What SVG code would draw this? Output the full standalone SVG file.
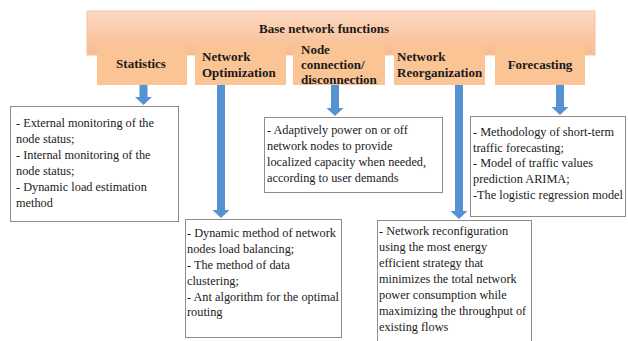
<svg xmlns="http://www.w3.org/2000/svg" width="628" height="341" viewBox="0 0 628 341">
<style>
.hd{font-family:'Liberation Serif','DejaVu Serif',serif;font-weight:bold;font-size:13px;fill:#1a1a1a}
.tx{font-family:'Liberation Serif','DejaVu Serif',serif;font-size:12.3px;fill:#1a1a1a}
.sub{fill:#fbc495}
.box{fill:#ffffff;stroke:#8c8c8c;stroke-width:1}
.arr{fill:#5592d2}
</style>
<defs>
<linearGradient id="bar" x1="0" y1="0" x2="0" y2="1">
<stop offset="0" stop-color="#fcd9c0"/>
<stop offset="1" stop-color="#f8bb90"/>
</linearGradient>
</defs>
<rect width="628" height="341" fill="#ffffff"/>
<g id="base">
<rect x="87" y="11" width="508" height="44" fill="url(#bar)" stroke="#f2c3a2" stroke-width="1"/>
<text class="hd" x="324" y="33" text-anchor="middle" font-family="Liberation Serif, serif">Base network functions</text>
</g>
<g id="h-statistics">
<rect class="sub" x="97" y="43" width="90" height="42"/>
<text class="hd" x="141" y="68" text-anchor="middle">Statistics</text>
</g>
<g id="h-optimization">
<rect class="sub" x="195" y="43" width="91" height="42"/>
<text class="hd" x="202" y="61">Network</text>
<text class="hd" x="202" y="77">Optimization</text>
</g>
<g id="h-node">
<rect class="sub" x="293" y="43" width="92" height="42"/>
<text class="hd" x="301" y="54">Node</text>
<text class="hd" x="301" y="69">connection/</text>
<text class="hd" x="301" y="84">disconnection</text>
</g>
<g id="h-reorganization">
<rect class="sub" x="394" y="43" width="91" height="42"/>
<text class="hd" x="397" y="61">Network</text>
<text class="hd" x="397" y="77">Reorganization</text>
</g>
<g id="h-forecasting">
<rect class="sub" x="495" y="43" width="90" height="42"/>
<text class="hd" x="540" y="69" text-anchor="middle">Forecasting</text>
</g>
<g id="connectors">
<path class="arr" d="M139.5 85 H147.5 V97 H152 L143.5 105 L135 97 H139.5 Z"/>
<path class="arr" d="M217 85 H225 V210 H229.5 L221 218 L212.5 210 H217 Z"/>
<path class="arr" d="M331 85 H339 V108 H343.5 L335 116 L326.5 108 H331 Z"/>
<path class="arr" d="M455 85 H463 V211 H467.5 L459 219 L450.5 211 H455 Z"/>
<path class="arr" d="M556 85 H564 V107 H568.5 L560 115 L551.5 107 H556 Z"/>
</g>
<g id="b-statistics">
<rect class="box" x="10.5" y="106.5" width="168" height="115"/>
<text class="tx" x="16" y="127">- External monitoring of the</text>
<text class="tx" x="16" y="143">node status;</text>
<text class="tx" x="16" y="159">- Internal monitoring of the</text>
<text class="tx" x="16" y="175">node status;</text>
<text class="tx" x="16" y="191">- Dynamic load estimation</text>
<text class="tx" x="16" y="207">method</text>
</g>
<g id="b-node">
<rect class="box" x="264.5" y="117.5" width="178" height="75"/>
<text class="tx" x="267" y="134">- Adaptively power on or off</text>
<text class="tx" x="267" y="150">network nodes to provide</text>
<text class="tx" x="267" y="166">localized capacity when needed,</text>
<text class="tx" x="267" y="182">according to user demands</text>
</g>
<g id="b-forecasting">
<rect class="box" x="470.5" y="116.5" width="155" height="100"/>
<text class="tx" x="473" y="136">- Methodology of short-term</text>
<text class="tx" x="473" y="152">traffic forecasting;</text>
<text class="tx" x="473" y="167">- Model of traffic values</text>
<text class="tx" x="473" y="183">prediction ARIMA;</text>
<text class="tx" x="473" y="199">-The logistic regression model</text>
</g>
<g id="b-optimization">
<rect class="box" x="185.5" y="219.5" width="156" height="118"/>
<text class="tx" x="187" y="237">- Dynamic method of network</text>
<text class="tx" x="187" y="253">nodes load balancing;</text>
<text class="tx" x="187" y="269">- The method of data</text>
<text class="tx" x="187" y="285">clustering;</text>
<text class="tx" x="187" y="301">- Ant algorithm for the optimal</text>
<text class="tx" x="187" y="316">routing</text>
</g>
<g id="b-reorganization">
<rect class="box" x="377.5" y="220.5" width="154" height="130"/>
<text class="tx" x="379" y="235">- Network reconfiguration</text>
<text class="tx" x="379" y="251">using the most energy</text>
<text class="tx" x="379" y="267">efficient strategy that</text>
<text class="tx" x="379" y="283">minimizes the total network</text>
<text class="tx" x="379" y="299">power consumption while</text>
<text class="tx" x="379" y="315">maximizing the throughput of</text>
<text class="tx" x="379" y="331">existing flows</text>
</g>
</svg>
